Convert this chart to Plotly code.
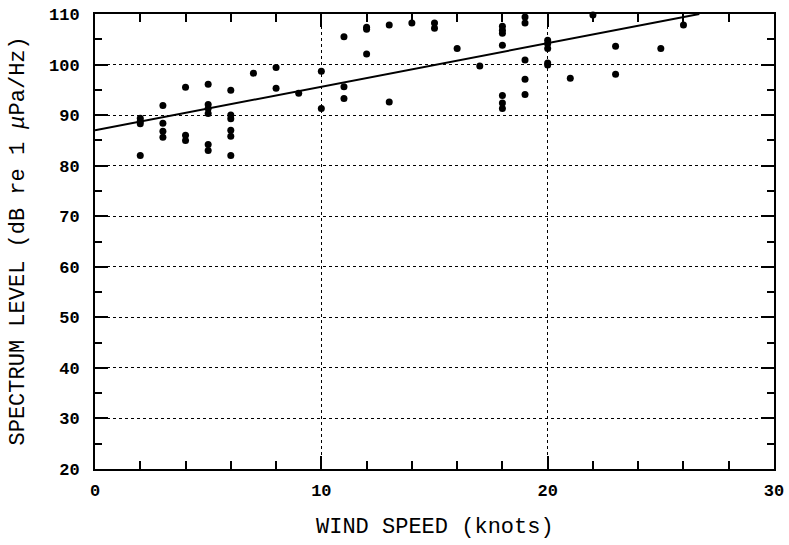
import plotly.graph_objects as go

# Observed spectrum levels (dB re 1 uPa/Hz) vs wind speed (knots)
wind_speed = [2, 2, 2, 2,
              3, 3, 3, 3,
              4, 4, 4,
              5, 5, 5, 5, 5, 5,
              6, 6, 6, 6, 6, 6,
              7,
              8, 8,
              9,
              10, 10,
              11, 11, 11,
              12, 12, 12,
              13, 13,
              14,
              15, 15,
              16,
              17,
              18, 18, 18, 18, 18, 18, 18,
              19, 19, 19, 19, 19,
              20, 20, 20, 20, 20,
              21,
              22,
              23, 23,
              25,
              26]
spectrum_level = [89.4, 88.8, 88.3, 82.0,
                  91.9, 88.4, 86.8, 85.6,
                  95.5, 86.0, 85.0,
                  96.1, 92.1, 91.3, 90.3, 84.2, 83.0,
                  94.9, 90.0, 89.3, 87.0, 85.8, 82.0,
                  98.3,
                  99.4, 95.3,
                  94.3,
                  98.7, 91.3,
                  105.5, 95.6, 93.3,
                  107.4, 107.0, 102.1,
                  107.8, 92.6,
                  108.2,
                  108.2, 107.2,
                  103.2,
                  99.7,
                  107.6, 106.8, 106.2, 103.8, 93.9, 92.4, 91.3,
                  109.4, 108.2, 100.9, 97.1, 94.1,
                  104.8, 104.1, 103.2, 100.3, 99.9,
                  97.3,
                  109.8,
                  103.6, 98.1,
                  103.2,
                  107.8]

# Regression line end points
fit_x = [0, 26.7]
fit_y = [87.0, 110.0]

x_ticks = [0, 10, 20, 30]
y_ticks = [20, 30, 40, 50, 60, 70, 80, 90, 100, 110]
x_title = "WIND SPEED (knots)"
y_title = "SPECTRUM LEVEL (dB re 1 <i>μ</i>Pa/Hz)"

fig = go.Figure()
fig.add_trace(go.Scatter(x=fit_x, y=fit_y, mode="lines",
                         line=dict(color="black", width=2), showlegend=False))
fig.add_trace(go.Scatter(x=wind_speed, y=spectrum_level, mode="markers",
                         marker=dict(color="black", size=7), showlegend=False,
                         cliponaxis=False))

mono = "Liberation Mono"
fig.update_layout(
    width=789, height=545,
    margin=dict(l=95, r=15, t=14, b=76, autoexpand=False),
    paper_bgcolor="white", plot_bgcolor="white",
    font=dict(family=mono, color="black"),
)
fig.update_xaxes(
    range=[0, 30], tickvals=x_ticks, ticktext=["<b>%d</b>" % v for v in x_ticks],
    showline=True, linecolor="black", linewidth=2, mirror="ticks",
    ticks="inside", ticklen=13, tickwidth=1.5, tickcolor="black",
    minor=dict(dtick=2, ticks="inside", ticklen=8, tickwidth=1.5, tickcolor="black", showgrid=False),
    showgrid=True, gridcolor="black", griddash="dot", gridwidth=1.3,
    zeroline=False, ticklabelstandoff=5, automargin=False,
    tickfont=dict(family=mono, size=17),
)
fig.update_yaxes(
    range=[20, 110], tickvals=y_ticks, ticktext=["<b>%d</b>" % v for v in y_ticks],
    showline=True, linecolor="black", linewidth=2, mirror="ticks",
    ticks="inside", ticklen=13, tickwidth=1.5, tickcolor="black",
    minor=dict(dtick=5, ticks="inside", ticklen=7, tickwidth=1.5, tickcolor="black", showgrid=False),
    showgrid=True, gridcolor="black", griddash="dot", gridwidth=1.3,
    zeroline=False, ticklabelstandoff=10, automargin=False,
    tickfont=dict(family=mono, size=17),
)
fig.add_annotation(text=x_title, xref="paper", yref="paper", x=0.5, y=-0.1275,
                   xanchor="center", yanchor="middle", showarrow=False,
                   font=dict(family=mono, size=22, color="black"))
fig.add_annotation(text=y_title, xref="paper", yref="paper", x=-0.1134, y=0.5,
                   xanchor="center", yanchor="middle", showarrow=False, textangle=-90,
                   font=dict(family=mono, size=22, color="black"))

fig.write_html("out.html")
